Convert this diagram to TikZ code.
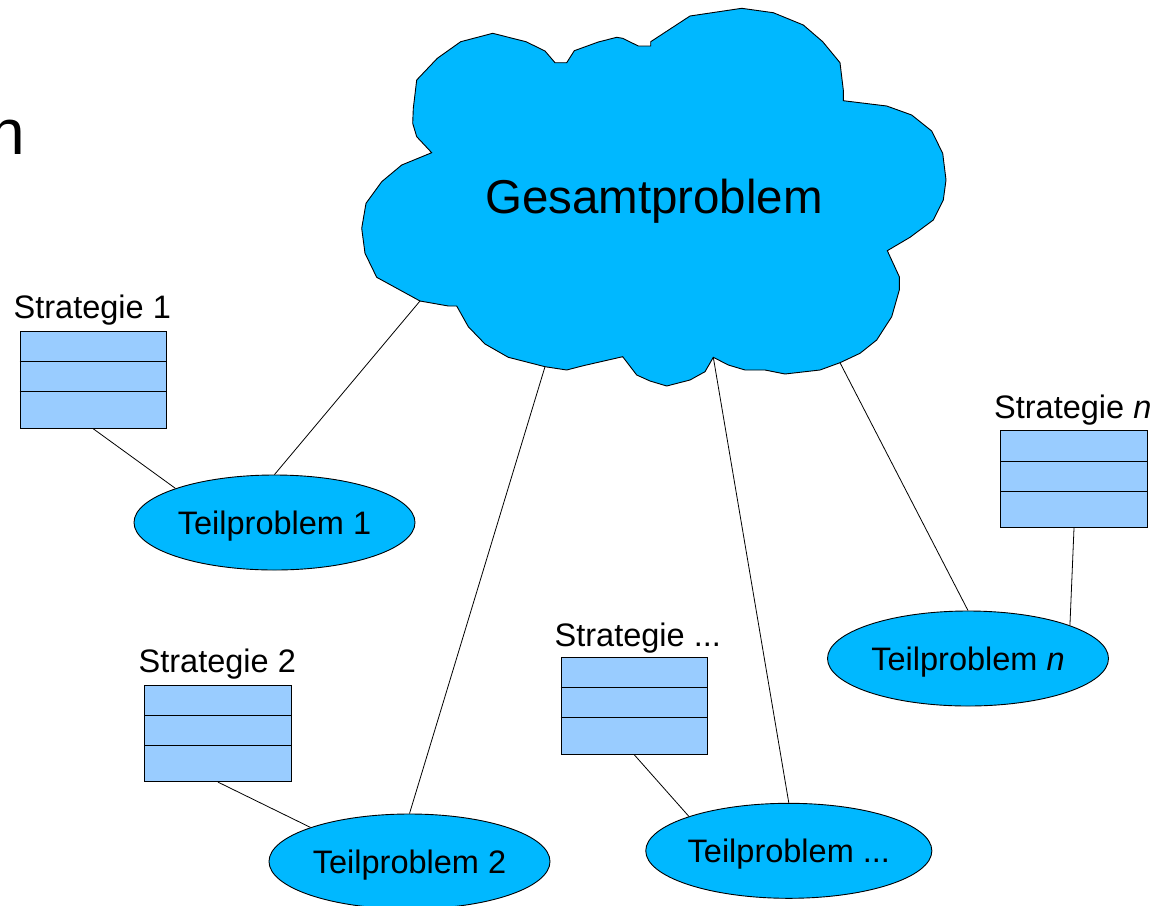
\documentclass[tikz,border=0pt]{standalone}
\usepackage{fontspec}
\setmainfont{Liberation Sans}
\usetikzlibrary{shapes.geometric}
\definecolor{cloudblue}{RGB}{0,184,255}
\definecolor{boxblue}{RGB}{153,204,255}
\tikzset{
  tpnode/.style={ellipse, draw=black, line width=0.9pt, fill=cloudblue, inner sep=0pt,
    text depth=0pt, minimum width=281pt, minimum height=95pt, font=\fontsize{32.5pt}{39pt}\selectfont},
  stratbox/.style={rectangle, draw=black, line width=0.9pt, fill=boxblue, inner sep=0pt,
    minimum width=146.7pt, minimum height=96.7pt},
  stratlbl/.style={inner sep=0pt, anchor=base west, font=\fontsize{32.5pt}{39pt}\selectfont},
  divider/.style={draw=black, line width=0.9pt},
  conn/.style={draw=black, line width=0.8pt},
}
\newcommand{\stratdividers}[1]{%
  \draw[divider] ([yshift=-30.6pt]#1.north west) -- ([yshift=-30.6pt]#1.north east);
  \draw[divider] ([yshift=-60.6pt]#1.north west) -- ([yshift=-60.6pt]#1.north east);}
\begin{document}
\begin{tikzpicture}[x=1pt,y=-1pt]
\useasboundingbox (0,0) rectangle (1161,905);
\fill[white] (0,0) rectangle (1161,905);

% partial title letter at the left edge
\node[inner sep=0pt, anchor=base east, font=\fontsize{64pt}{70pt}\selectfont] (title) at (25,154) {n};

% cloud connection points
\coordinate (c1) at (420,301);
\coordinate (c2) at (545,366.7);
\coordinate (c3) at (713.3,357.3);
\coordinate (c4) at (840,362.7);

% cloud
\draw[fill=cloudblue, line width=0.9pt, line join=miter]
 (431.7,152.7) -- (416.7,136.7) -- (412.7,123.3) -- (413.3,108.3) -- (416.7,80) -- (437.3,58.3)
 -- (460.7,41.7) -- (492.7,33.3) -- (526,41.7) -- (545,51) -- (555,62.7) -- (566.7,62.7)
 -- (574.3,50.7) -- (598.3,42) -- (616.7,37.3) -- (622.7,38.3) -- (638.3,46) -- (650.7,46)
 -- (650.7,41.7) -- (690,16) -- (741.7,8.3) -- (773.3,12.7) -- (803.3,25) -- (822.7,41.7)
 -- (840,62.7) -- (843.3,90) -- (843.3,100.7) -- (886.7,106) -- (911.7,115) -- (931.7,131)
 -- (942.7,153.3) -- (946,180) -- (943.3,200) -- (933.3,220) -- (910,237.3) -- (887.3,250.7)
 -- (899.3,276.7) -- (899.3,290) -- (891.7,316.7) -- (876.7,340) -- (860,353.3) -- (c4)
 -- (820,370) -- (785,374) -- (765,370) -- (745,370) -- (728.3,365) -- (c3)
 -- (705,371.7) -- (690,380) -- (666.7,386) -- (650,381) -- (636.7,375) -- (622.7,356.7)
 -- (583.3,365.7) -- (566.7,370) -- (c2) -- (508.3,357.3) -- (485,344) -- (468.3,326.7)
 -- (456.7,306) -- (448.3,306) -- (c1) -- (376.7,277.3) -- (365,253.3) -- (361.7,228.3)
 -- (366,203.3) -- (381.7,181.7) -- (401.7,165) -- cycle;
\node[inner sep=0pt, anchor=base, font=\fontsize{47.5pt}{55pt}\selectfont] (gp) at (654,213) {Gesamtproblem};

% sub-problems
\node[tpnode] (tp1) at (274.5,522.5) {Teilproblem 1};
\node[tpnode] (tp2) at (409.5,861.5) {Teilproblem 2};
\node[tpnode] (tp3) at (788.8,850.8) {Teilproblem ...};
\node[tpnode] (tpn) at (968,658.5) {Teilproblem \textit{n}};

% strategies
\node[stratbox] (s1) at (93.3,380) {};
\stratdividers{s1}
\node[stratlbl] (l1) at (13.5,318.3) {Strategie 1};

\node[stratbox] (s2) at (218,733.3) {};
\stratdividers{s2}
\node[stratlbl] (l2) at (138.5,672) {Strategie 2};

\node[stratbox] (s3) at (634.3,706) {};
\stratdividers{s3}
\node[stratlbl] (l3) at (554.5,646.7) {Strategie ...};

\node[stratbox] (sn) at (1074,479.2) {};
\stratdividers{sn}
\node[stratlbl] (ln) at (994,418.3) {Strategie \textit{n}};

% connectors
\draw[conn] (c1) -- (tp1.north);
\draw[conn] (s1.south) -- (tp1.161.4);
\draw[conn] (c2) -- (tp2.north);
\draw[conn] (s2.south) -- (tp2.161.2);
\draw[conn] (c3) -- (tp3.north);
\draw[conn] (s3.south) -- (tp3.161.1);
\draw[conn] (c4) -- (tpn.north);
\draw[conn] (sn.south) -- (tpn.18.3);
\end{tikzpicture}
\end{document}
